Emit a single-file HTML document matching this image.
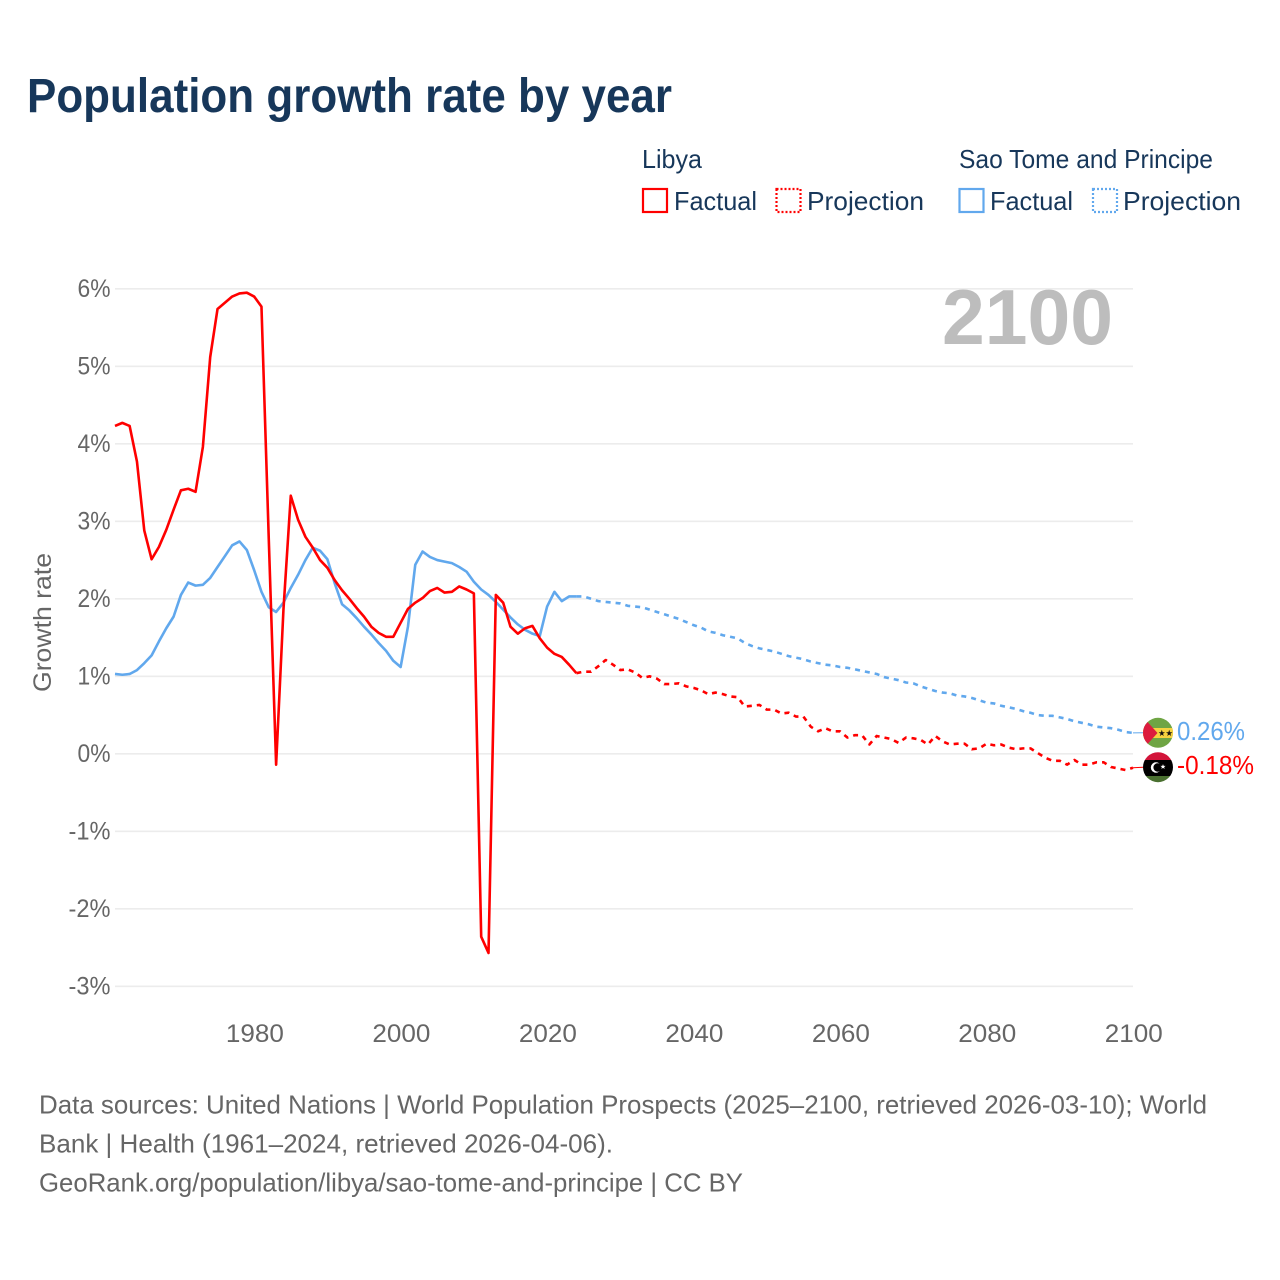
<!DOCTYPE html>
<html lang="en">
<head>
<meta charset="utf-8">
<title>Population growth rate by year</title>
<style>
html,body{margin:0;padding:0;background:#fff;}
svg{display:block;font-family:"Liberation Sans",sans-serif;}
</style>
</head>
<body>
<svg id="chart" width="1280" height="1280" viewBox="0 0 1280 1280" xmlns="http://www.w3.org/2000/svg">
  <defs>
    <clipPath id="clip-stp"><circle cx="1158" cy="732.8" r="15"/></clipPath>
    <clipPath id="clip-lby"><circle cx="1158" cy="767.2" r="15"/></clipPath>
  </defs>
  <rect width="1280" height="1280" fill="#fff"/>
  <text x="27" y="112" font-size="48" font-weight="700" fill="#17375a" textLength="645" lengthAdjust="spacingAndGlyphs">Population growth rate by year</text>

  <g font-size="26" fill="#17375a">
    <text x="642" y="168" textLength="60" lengthAdjust="spacingAndGlyphs">Libya</text>
    <text x="959" y="168" textLength="254" lengthAdjust="spacingAndGlyphs">Sao Tome and Principe</text>
    <rect x="643" y="189" width="24" height="23" fill="none" stroke="#ff0000" stroke-width="2.2"/>
    <text x="674" y="210" textLength="83" lengthAdjust="spacingAndGlyphs">Factual</text>
    <rect x="776.5" y="189" width="24" height="23" fill="none" stroke="#ff0000" stroke-width="2.2" stroke-dasharray="2 2"/>
    <text x="807" y="210" textLength="117" lengthAdjust="spacingAndGlyphs">Projection</text>
    <rect x="959.5" y="189" width="24" height="23" fill="none" stroke="#61a8ed" stroke-width="2.2"/>
    <text x="990" y="210" textLength="83" lengthAdjust="spacingAndGlyphs">Factual</text>
    <rect x="1093" y="189" width="24" height="23" fill="none" stroke="#61a8ed" stroke-width="2.2" stroke-dasharray="2 2"/>
    <text x="1123" y="210" textLength="118" lengthAdjust="spacingAndGlyphs">Projection</text>
  </g>

  <text transform="translate(51,622.5) rotate(-90)" text-anchor="middle" font-size="25" fill="#666" textLength="139" lengthAdjust="spacingAndGlyphs">Growth rate</text>

  <g id="grid"></g>
  <g id="ylabels" font-size="25" fill="#666"></g>
  <g id="xlabels" font-size="25" fill="#666"></g>

  <text x="1113" y="344" text-anchor="end" font-size="78" font-weight="700" fill="#bdbdbd" textLength="171" lengthAdjust="spacingAndGlyphs">2100</text>

  <g id="series"></g>

  <g clip-path="url(#clip-stp)">
    <rect x="1143" y="717" width="30" height="32" fill="#6fa544"/>
    <rect x="1143" y="728" width="30" height="10" fill="#f6d23f"/>
    <polygon points="1143,717 1157.5,733 1143,749" fill="#dc1c3e"/>
    <polygon points="1161.8,729.8 1162.6,732.2 1165,732.2 1163,733.7 1163.8,736 1161.8,734.6 1159.8,736 1160.6,733.7 1158.6,732.2 1161,732.2" fill="#111"/>
    <polygon points="1169.2,729.8 1170,732.2 1172.4,732.2 1170.4,733.7 1171.2,736 1169.2,734.6 1167.2,736 1168,733.7 1166,732.2 1168.4,732.2" fill="#111"/>
  </g>
  <g clip-path="url(#clip-lby)">
    <rect x="1143" y="752" width="30" height="9" fill="#d2143a"/>
    <rect x="1143" y="760" width="30" height="16" fill="#000"/>
    <rect x="1143" y="776" width="30" height="8" fill="#4a7030"/>
    <circle cx="1156" cy="767.5" r="5.2" fill="#fff"/>
    <circle cx="1157.6" cy="767.5" r="4.2" fill="#000"/>
    <polygon points="1163,764.1 1163.7,765.9 1165.6,765.9 1164.1,767.1 1164.7,768.9 1163,767.9 1161.3,768.9 1161.9,767.1 1160.4,765.9 1162.3,765.9" fill="#fff"/>
  </g>

  <text x="1177" y="740" font-size="25.5" fill="#61a8ed" textLength="68" lengthAdjust="spacingAndGlyphs">0.26%</text>
  <text x="1177" y="774" font-size="25.5" fill="#ff0000" textLength="77" lengthAdjust="spacingAndGlyphs">-0.18%</text>

  <g font-size="26" fill="#666">
    <text x="39" y="1113.5" textLength="1168" lengthAdjust="spacingAndGlyphs">Data sources: United Nations | World Population Prospects (2025–2100, retrieved 2026-03-10); World</text>
    <text x="39" y="1152.5" textLength="574" lengthAdjust="spacingAndGlyphs">Bank | Health (1961–2024, retrieved 2026-04-06).</text>
    <text x="39" y="1191.5" textLength="704" lengthAdjust="spacingAndGlyphs">GeoRank.org/population/libya/sao-tome-and-principe | CC BY</text>
  </g>
</svg>
<script>
const factualStartYear = 1961;
const projectionStartYear = 2024;
const yTickValues = [6, 5, 4, 3, 2, 1, 0, -1, -2, -3];
const yTickLabels = ['6%', '5%', '4%', '3%', '2%', '1%', '0%', '-1%', '-2%', '-3%'];
const xTickYears = [1980, 2000, 2020, 2040, 2060, 2080, 2100];
const libyaFactual = [4.23,4.27,4.23,3.77,2.88,2.51,2.67,2.89,3.15,3.40,3.42,3.38,3.96,5.12,5.74,5.82,5.90,5.94,5.95,5.90,5.77,2.76,-0.14,1.86,3.33,3.02,2.80,2.66,2.50,2.40,2.24,2.11,2.00,1.88,1.77,1.64,1.56,1.51,1.51,1.69,1.87,1.95,2.01,2.10,2.14,2.08,2.09,2.16,2.12,2.07,-2.36,-2.57,2.05,1.95,1.64,1.55,1.62,1.65,1.49,1.37,1.29,1.25,1.15,1.04];
const libyaProjection = [1.04,1.06,1.06,1.13,1.21,1.15,1.08,1.09,1.05,0.98,1.00,0.97,0.90,0.90,0.91,0.87,0.85,0.82,0.77,0.79,0.77,0.74,0.73,0.61,0.62,0.63,0.57,0.57,0.52,0.53,0.48,0.48,0.35,0.29,0.33,0.29,0.29,0.21,0.24,0.24,0.12,0.23,0.21,0.19,0.14,0.21,0.20,0.18,0.12,0.23,0.16,0.12,0.13,0.13,0.06,0.07,0.13,0.11,0.12,0.08,0.06,0.07,0.07,0.01,-0.05,-0.09,-0.09,-0.14,-0.08,-0.14,-0.14,-0.11,-0.11,-0.17,-0.19,-0.21,-0.18];
const stpFactual = [1.03,1.02,1.03,1.08,1.17,1.27,1.45,1.62,1.77,2.05,2.21,2.17,2.18,2.27,2.41,2.55,2.69,2.74,2.63,2.37,2.09,1.89,1.83,1.95,2.14,2.31,2.50,2.66,2.62,2.51,2.20,1.93,1.85,1.75,1.64,1.54,1.43,1.33,1.20,1.12,1.64,2.44,2.61,2.54,2.50,2.48,2.46,2.41,2.35,2.22,2.12,2.05,1.96,1.86,1.76,1.67,1.60,1.55,1.52,1.90,2.09,1.97,2.03,2.03];
const stpProjection = [2.03,2.03,2.00,1.97,1.96,1.95,1.94,1.91,1.90,1.89,1.86,1.83,1.80,1.77,1.74,1.70,1.66,1.63,1.58,1.56,1.53,1.51,1.49,1.43,1.39,1.36,1.34,1.32,1.29,1.26,1.24,1.22,1.19,1.17,1.15,1.14,1.12,1.11,1.09,1.07,1.05,1.03,0.99,0.97,0.95,0.92,0.91,0.87,0.84,0.81,0.79,0.78,0.75,0.74,0.72,0.69,0.66,0.65,0.62,0.60,0.58,0.55,0.53,0.50,0.49,0.49,0.47,0.45,0.42,0.40,0.38,0.35,0.34,0.33,0.31,0.28,0.27];

const NS = 'http://www.w3.org/2000/svg';
function xScale(year) {
  return 115 + (year - 1961) * (1133 - 115) / (2100 - 1961);
}
function yScale(value) {
  return 753.8 - value * 77.5;
}
function pathFrom(values, startYear) {
  return values.map(function (v, i) {
    return (i ? 'L' : 'M') + xScale(startYear + i).toFixed(2) + ' ' + yScale(v).toFixed(2);
  }).join(' ');
}
function addLine(parent, d, color, width, dash) {
  const p = document.createElementNS(NS, 'path');
  p.setAttribute('d', d);
  p.setAttribute('fill', 'none');
  p.setAttribute('stroke', color);
  p.setAttribute('stroke-width', width);
  p.setAttribute('stroke-linejoin', 'round');
  if (dash) p.setAttribute('stroke-dasharray', dash);
  parent.appendChild(p);
  return p;
}

const grid = document.getElementById('grid');
const ylabels = document.getElementById('ylabels');
const xlabels = document.getElementById('xlabels');
const series = document.getElementById('series');

yTickValues.forEach(function (v, i) {
  const l = document.createElementNS(NS, 'line');
  l.setAttribute('x1', 115);
  l.setAttribute('x2', 1133);
  l.setAttribute('y1', yScale(v));
  l.setAttribute('y2', yScale(v));
  l.setAttribute('stroke', '#ececec');
  l.setAttribute('stroke-width', 1.6);
  
  
  grid.appendChild(l);

  const t = document.createElementNS(NS, 'text');
  t.setAttribute('x', 110.5);
  t.setAttribute('y', yScale(v) + 8);
  t.setAttribute('text-anchor', 'end');
  t.setAttribute('textLength', 15 + 9 * yTickLabels[i].length);
  t.setAttribute('lengthAdjust', 'spacingAndGlyphs');
  
  
  t.textContent = yTickLabels[i];
  ylabels.appendChild(t);
});

xTickYears.forEach(function (year) {
  const t = document.createElementNS(NS, 'text');
  t.setAttribute('x', xScale(year) + 0.8);
  t.setAttribute('y', 1042);
  t.setAttribute('text-anchor', 'middle');
  t.setAttribute('textLength', 58);
  t.setAttribute('lengthAdjust', 'spacingAndGlyphs');
  
  
  t.textContent = String(year);
  xlabels.appendChild(t);
});

const stpFactualLine = addLine(series, pathFrom(stpFactual, factualStartYear), '#61a8ed', 2.6);


const stpProjectionLine = addLine(series, pathFrom(stpProjection, projectionStartYear), '#61a8ed', 2.6, '5 5');


const libyaFactualLine = addLine(series, pathFrom(libyaFactual, factualStartYear), '#ff0000', 2.6);


const libyaProjectionLine = addLine(series, pathFrom(libyaProjection, projectionStartYear), '#ff0000', 2.6, '5 5');



const stpLast = stpProjection[stpProjection.length - 1];
const lbyLast = libyaProjection[libyaProjection.length - 1];
const stpConnector = addLine(series, 'M' + xScale(2100) + ' ' + yScale(stpLast) + ' L1143 732.8', '#61a8ed', 1);


const lbyConnector = addLine(series, 'M' + xScale(2100) + ' ' + yScale(lbyLast) + ' L1143 767.2', '#ff0000', 1);


</script>
</body>
</html>
